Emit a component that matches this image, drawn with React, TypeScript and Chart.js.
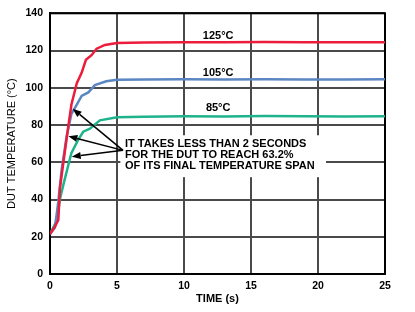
import React, { useEffect, useRef } from "react";
import { Chart, registerables } from "chart.js";

Chart.register(...registerables);

// ---- data ----
const xTickValues = [0, 5, 10, 15, 20, 25];
const yTickValues = [0, 20, 40, 60, 80, 100, 120, 140];

const redTime = [0, 0.37, 0.62, 0.74, 1.0, 1.36, 1.6, 2.0, 2.36, 2.68, 3.1, 3.48, 4.1, 5.0, 7, 10, 13, 16, 19, 22, 25];
const redTemp = [21.5, 25.5, 29, 46, 60, 79, 91, 102.5, 108, 115, 117.5, 121, 123, 124, 124.3, 124.5, 124.4, 124.6, 124.5, 124.4, 124.5];

const blueTime = [0, 0.37, 0.62, 0.87, 1.24, 1.6, 2.0, 2.36, 2.86, 3.35, 4.2, 5.0, 7, 10, 13, 16, 19, 22, 25];
const blueTemp = [21.5, 25, 38.8, 56, 73.8, 86, 91, 95.6, 97.5, 101.4, 103.5, 104.3, 104.5, 104.6, 104.5, 104.6, 104.5, 104.5, 104.6];

const greenTime = [0, 0.5, 0.75, 1.0, 1.49, 1.6, 2.1, 2.48, 2.98, 3.72, 5.0, 7, 10, 13, 16, 19, 22, 25];
const greenTemp = [21.5, 28.5, 40.4, 48, 62, 65, 72, 76.4, 78, 82.5, 84.2, 84.5, 84.7, 84.6, 84.8, 84.7, 84.6, 84.7];

const seriesNames = ["125°C", "105°C", "85°C"];
const seriesColors = ["#ec1c3c", "#5b86c2", "#1fb38b"];

const noteLines = [
  "IT TAKES LESS THAN 2 SECONDS",
  "FOR THE DUT TO REACH 63.2%",
  "OF ITS FINAL TEMPERATURE SPAN",
];

const xTitle = "TIME (s)";
const yTitle = "DUT TEMPERATURE (°C)";

const toPoints = (t: number[], v: number[]) => t.map((tt, i) => ({ x: tt, y: v[i] }));

const annotationPlugin = {
  id: "annot",
  beforeDatasetsDraw(chart: any) {
    const { ctx, scales, chartArea } = chart;
    const x = scales.x;
    const y = scales.y;
    ctx.save();
    // white box behind the note text
    const l = x.getPixelForValue(5.25);
    const r = x.getPixelForValue(20.6);
    const t = y.getPixelForValue(74.5);
    const b = y.getPixelForValue(52);
    ctx.fillStyle = "#ffffff";
    ctx.fillRect(l, t, r - l, b - t);
    // frame
    ctx.strokeStyle = "#000";
    ctx.lineWidth = 2;
    ctx.strokeRect(chartArea.left, chartArea.top, chartArea.right - chartArea.left, chartArea.bottom - chartArea.top);
    ctx.restore();
  },
  afterDatasetsDraw(chart: any) {
    const { ctx, scales } = chart;
    const x = scales.x;
    const y = scales.y;
    ctx.save();
    ctx.fillStyle = "#000";
    ctx.font = "bold 11px 'Liberation Sans', Arial, sans-serif";
    // series labels
    ctx.textAlign = "center";
    ctx.textBaseline = "middle";
    const labelY = [128, 108, 89];
    seriesNames.forEach((n, i) => {
      ctx.fillText(n, x.getPixelForValue(12.55), y.getPixelForValue(labelY[i]));
    });
    // note text
    ctx.textAlign = "left";
    const noteY = [69.6, 63.9, 58.1];
    noteLines.forEach((line, i) => {
      ctx.fillText(line, x.getPixelForValue(5.6), y.getPixelForValue(noteY[i]));
    });
    // arrows
    const tx = x.getPixelForValue(5.45);
    const ty = y.getPixelForValue(66.4);
    const heads = [
      [1.69, 88.8],
      [1.37, 74],
      [1.62, 63],
    ];
    ctx.strokeStyle = "#000";
    ctx.lineWidth = 1.5;
    heads.forEach(([hx, hy]) => {
      const px = x.getPixelForValue(hx);
      const py = y.getPixelForValue(hy);
      const ang = Math.atan2(py - ty, px - tx);
      const len = 9;
      const w = 3.5;
      const bx = px - Math.cos(ang) * len;
      const by = py - Math.sin(ang) * len;
      ctx.beginPath();
      ctx.moveTo(tx, ty);
      ctx.lineTo(bx, by);
      ctx.stroke();
      ctx.beginPath();
      ctx.moveTo(px, py);
      ctx.lineTo(bx + Math.sin(ang) * w, by - Math.cos(ang) * w);
      ctx.lineTo(bx - Math.sin(ang) * w, by + Math.cos(ang) * w);
      ctx.closePath();
      ctx.fill();
    });
    ctx.restore();
  },
};

export default function App() {
  const ref = useRef<HTMLCanvasElement | null>(null);
  useEffect(() => {
    if (!ref.current) return;
    const tickFont = { family: "'Liberation Sans', Arial, sans-serif", size: 10.5, weight: "bold" as const };
    const chart = new Chart(ref.current, {
      type: "line",
      data: {
        datasets: [
          { label: seriesNames[0], data: toPoints(redTime, redTemp), borderColor: seriesColors[0] },
          { label: seriesNames[1], data: toPoints(blueTime, blueTemp), borderColor: seriesColors[1] },
          { label: seriesNames[2], data: toPoints(greenTime, greenTemp), borderColor: seriesColors[2] },
        ].map((d) => ({ ...d, borderWidth: 2.5, pointRadius: 0, tension: 0, fill: false })),
      },
      options: {
        responsive: false,
        animation: false,
        events: [],
        layout: { padding: { left: 0, top: 6, right: 30, bottom: 0 } },
        plugins: { legend: { display: false }, tooltip: { enabled: false } },
        scales: {
          x: {
            type: "linear",
            min: 0,
            max: 25,
            afterFit: (s: any) => { s.height = 38; },
            afterBuildTicks: (s: any) => { s.ticks = xTickValues.map((v) => ({ value: v })); },
            grid: { color: "#4a4a4a", lineWidth: 2, drawTicks: false },
            border: { color: "#000", width: 2 },
            ticks: { color: "#000", font: tickFont, padding: 6, maxRotation: 0 },
            title: {
              display: true,
              text: xTitle,
              color: "#000",
              font: { family: "'Liberation Sans', Arial, sans-serif", size: 11, weight: "bold" },
              padding: { top: 0, bottom: 6 },
            },
          },
          y: {
            type: "linear",
            min: 0,
            max: 140,
            afterFit: (s: any) => { s.width = 50; },
            afterBuildTicks: (s: any) => { s.ticks = yTickValues.map((v) => ({ value: v })); },
            grid: { color: "#4a4a4a", lineWidth: 2, drawTicks: false },
            border: { color: "#000", width: 2 },
            ticks: { color: "#000", font: tickFont, padding: 7 },
            title: {
              display: true,
              text: yTitle,
              color: "#000",
              font: { family: "'Liberation Sans', Arial, sans-serif", size: 11, weight: "normal" },
              padding: { top: 5, bottom: 0 },
            },
          },
        },
      },
      plugins: [annotationPlugin],
    });
    return () => chart.destroy();
  }, []);
  return (
    <div style={{ position: "absolute", left: 0, top: 0, width: 415, height: 312, background: "#fff" }}>
      <canvas ref={ref} width={415} height={312} style={{ width: 415, height: 312, display: "block" }} />
    </div>
  );
}
